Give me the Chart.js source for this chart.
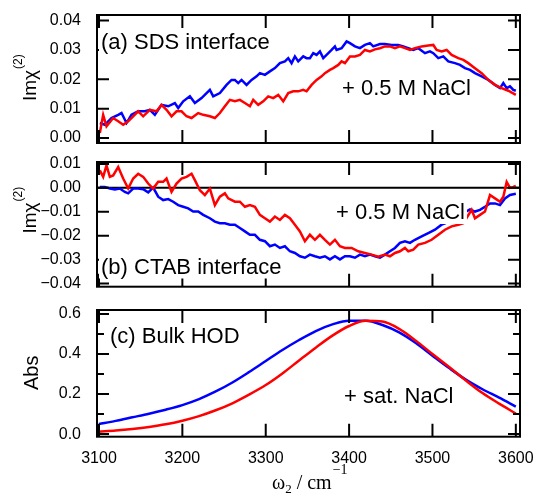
<!DOCTYPE html>
<html><head><meta charset="utf-8">
<script src="https://cdn.jsdelivr.net/npm/chart.js@4.4.1/dist/chart.umd.min.js"></script>
<style>
html,body{margin:0;padding:0;background:#fff;}
#wrap{position:relative;width:535px;height:495px;background:#fff;}
canvas{position:absolute;left:0;top:0;}
</style>
</head><body>
<div id="wrap">
<canvas id="ca" width="535" height="495"></canvas>
<canvas id="cb" width="535" height="495"></canvas>
<canvas id="cc" width="535" height="495"></canvas>
</div>
<script>
// ---------- axis ticks ----------
const X_TICKS = [3100, 3200, 3300, 3400, 3500, 3600];
const X_TICK_LABELS = ['3100', '3200', '3300', '3400', '3500', '3600'];
const A_Y_TICKS = [0, 0.01, 0.02, 0.03, 0.04];
const A_Y_LABELS = ['0.00', '0.01', '0.02', '0.03', '0.04'];
const B_Y_TICKS = [-0.04, -0.03, -0.02, -0.01, 0, 0.01];
const B_Y_LABELS = ['\u22120.04', '\u22120.03', '\u22120.02', '\u22120.01', '0.00', '0.01'];
const C_Y_TICKS = [0, 0.2, 0.4, 0.6];
const C_Y_LABELS = ['0.0', '0.2', '0.4', '0.6'];
const C_Y_MINOR = [0.1, 0.3, 0.5];

// ---------- (a) SDS interface ----------
const A_BLUE_X = [3101,3107,3115,3123,3127,3133,3139,3147,3155,3161,3167,3175,3183,3191,3195,3201,3209,3215,3223,3233,3237,3245,3253,3259,3263,3267,3271,3277,3283,3289,3293,3299,3305,3311,3317,3323,3327,3331,3335,3339,3345,3349,3353,3357,3361,3365,3369,3373,3379,3383,3385,3391,3397,3401,3407,3413,3419,3425,3429,3437,3443,3451,3459,3465,3471,3477,3483,3491,3497,3501,3507,3513,3519,3527,3533,3539,3545,3551,3559,3567,3575,3581,3585,3589,3593,3597,3600];
const A_BLUE_Y = [0.0051,0.0045,0.0068,0.0079,0.0085,0.0051,0.0079,0.0091,0.0091,0.0096,0.0079,0.0113,0.0108,0.0119,0.0102,0.0125,0.0142,0.0119,0.0136,0.0164,0.0142,0.0153,0.0181,0.0198,0.0198,0.0187,0.0198,0.0181,0.0198,0.0210,0.0221,0.0215,0.0227,0.0238,0.0255,0.0261,0.0272,0.0255,0.0278,0.0261,0.0278,0.0272,0.0272,0.0289,0.0283,0.0295,0.0272,0.0283,0.0300,0.0312,0.0300,0.0306,0.0329,0.0323,0.0312,0.0306,0.0317,0.0323,0.0312,0.0320,0.0320,0.0317,0.0317,0.0312,0.0306,0.0300,0.0306,0.0289,0.0295,0.0289,0.0272,0.0278,0.0261,0.0255,0.0249,0.0238,0.0232,0.0221,0.0210,0.0198,0.0181,0.0170,0.0187,0.0170,0.0176,0.0164,0.0161];
const A_RED_X = [3101,3105,3109,3117,3123,3129,3135,3141,3147,3153,3161,3169,3175,3181,3187,3193,3199,3205,3211,3219,3225,3233,3239,3245,3251,3257,3263,3269,3275,3281,3285,3291,3297,3303,3309,3315,3321,3327,3333,3339,3345,3349,3355,3361,3367,3371,3377,3381,3387,3391,3395,3401,3407,3413,3419,3425,3431,3437,3443,3449,3455,3461,3467,3473,3479,3487,3495,3501,3505,3511,3517,3523,3531,3537,3543,3551,3559,3567,3575,3583,3591,3600];
const A_RED_Y = [0.0017,0.0079,0.0040,0.0068,0.0057,0.0045,0.0057,0.0074,0.0091,0.0074,0.0096,0.0091,0.0113,0.0096,0.0074,0.0091,0.0091,0.0074,0.0068,0.0085,0.0079,0.0074,0.0068,0.0085,0.0108,0.0130,0.0125,0.0130,0.0119,0.0108,0.0130,0.0113,0.0125,0.0142,0.0136,0.0147,0.0125,0.0153,0.0159,0.0159,0.0164,0.0159,0.0181,0.0198,0.0210,0.0221,0.0232,0.0238,0.0249,0.0261,0.0255,0.0278,0.0278,0.0283,0.0300,0.0295,0.0302,0.0306,0.0312,0.0312,0.0306,0.0312,0.0306,0.0300,0.0306,0.0312,0.0315,0.0317,0.0300,0.0295,0.0300,0.0283,0.0272,0.0266,0.0255,0.0238,0.0221,0.0198,0.0181,0.0170,0.0161,0.0147];

// ---------- (b) CTAB interface ----------
const B_BLUE_X = [3101,3107,3113,3119,3125,3131,3135,3141,3147,3153,3159,3165,3171,3177,3183,3189,3195,3201,3207,3213,3219,3225,3233,3239,3245,3251,3257,3263,3269,3275,3281,3287,3293,3299,3305,3311,3317,3323,3329,3335,3341,3347,3353,3359,3365,3371,3377,3383,3389,3395,3401,3407,3413,3419,3425,3431,3437,3443,3449,3455,3461,3467,3473,3479,3487,3495,3503,3511,3515,3545,3551,3557,3563,3569,3575,3581,3587,3593,3600];
const B_BLUE_Y = [0.0004,0.0004,-0.0003,-0.0007,-0.0003,-0.0017,-0.0023,-0.0003,-0.0003,-0.0006,-0.0019,0.0001,-0.0037,-0.0051,-0.0047,-0.0058,-0.0072,-0.0079,-0.0086,-0.0099,-0.0099,-0.0113,-0.0127,-0.0141,-0.0148,-0.0148,-0.0154,-0.0154,-0.0168,-0.0182,-0.0196,-0.0196,-0.0217,-0.0223,-0.0244,-0.0237,-0.0251,-0.0244,-0.0265,-0.0272,-0.0286,-0.0292,-0.0279,-0.0286,-0.0292,-0.0286,-0.0299,-0.0286,-0.0299,-0.0286,-0.0286,-0.0292,-0.0279,-0.0286,-0.0279,-0.0286,-0.0292,-0.0279,-0.0265,-0.0251,-0.0230,-0.0223,-0.0230,-0.0217,-0.0203,-0.0189,-0.0175,-0.0154,-0.0148,-0.0090,-0.0099,-0.0092,-0.0079,-0.0065,-0.0065,-0.0072,-0.0044,-0.0030,-0.0025];
const B_RED_X = [3101,3105,3109,3113,3117,3123,3129,3135,3141,3147,3153,3159,3165,3171,3177,3181,3187,3193,3199,3205,3211,3215,3221,3227,3233,3239,3245,3251,3255,3263,3269,3275,3281,3287,3293,3299,3305,3311,3317,3323,3329,3335,3341,3347,3353,3359,3365,3371,3377,3383,3389,3395,3403,3411,3419,3427,3435,3443,3449,3455,3461,3467,3471,3477,3483,3491,3499,3507,3515,3523,3531,3537,3547,3551,3557,3563,3569,3575,3581,3585,3589,3593,3597,3600];
const B_RED_Y = [0.0073,0.0046,0.0094,0.0046,0.0052,0.0087,0.0039,-0.0003,0.0039,0.0059,0.0046,0.0018,-0.0003,0.0025,0.0025,0.0039,-0.0017,0.0018,0.0039,0.0046,0.0059,0.0032,-0.0010,-0.0030,-0.0003,-0.0072,-0.0037,-0.0023,-0.0044,-0.0058,-0.0058,-0.0079,-0.0072,-0.0079,-0.0113,-0.0127,-0.0141,-0.0120,-0.0134,-0.0113,-0.0127,-0.0154,-0.0182,-0.0223,-0.0196,-0.0217,-0.0196,-0.0217,-0.0237,-0.0217,-0.0244,-0.0251,-0.0251,-0.0265,-0.0272,-0.0279,-0.0288,-0.0279,-0.0286,-0.0272,-0.0265,-0.0251,-0.0265,-0.0258,-0.0237,-0.0230,-0.0217,-0.0196,-0.0175,-0.0161,-0.0154,-0.0148,-0.0092,-0.0127,-0.0113,-0.0099,-0.0030,-0.0044,-0.0058,-0.0037,0.0025,0.0000,0.0004,0.0008];

// ---------- (c) Bulk HOD ----------
const C_X = [3100,3120,3140,3160,3180,3200,3220,3240,3260,3280,3300,3320,3340,3360,3380,3400,3420,3440,3460,3480,3500,3520,3540,3560,3580,3600];
const C_BLUE = [0.050,0.066,0.084,0.102,0.122,0.145,0.175,0.213,0.258,0.310,0.365,0.420,0.470,0.515,0.548,0.566,0.566,0.545,0.508,0.455,0.392,0.330,0.272,0.224,0.182,0.137];
const C_RED = [0.012,0.018,0.026,0.036,0.049,0.067,0.090,0.119,0.154,0.197,0.245,0.303,0.368,0.432,0.492,0.540,0.566,0.562,0.526,0.467,0.400,0.335,0.268,0.205,0.152,0.103];

const SANS = '"Liberation Sans", Arial, Helvetica, sans-serif';
const SERIF = '"Liberation Serif", "Times New Roman", serif';
const BLUE = '#0000ff', RED = '#ff0000';

function pts(xs, ys) { return xs.map((x, i) => ({ x: x, y: ys[i] })); }

function decoPlugin(cfg) {
  return {
    id: 'deco_' + cfg.name,
    beforeDatasetsDraw(chart) {
      if (!cfg.zero) return;
      const ctx = chart.ctx, a = chart.chartArea, y = chart.scales.y;
      const py = y.getPixelForValue(0);
      ctx.save();
      ctx.strokeStyle = '#000'; ctx.lineWidth = 2;
      ctx.beginPath(); ctx.moveTo(a.left, py); ctx.lineTo(a.right, py); ctx.stroke();
      ctx.restore();
    },
    afterDraw(chart) {
      const ctx = chart.ctx, a = chart.chartArea, x = chart.scales.x, y = chart.scales.y;
      ctx.save();
      ctx.strokeStyle = '#000'; ctx.lineWidth = 2; ctx.lineCap = 'butt';
      ctx.beginPath();
      X_TICKS.forEach(v => {
        const p = x.getPixelForValue(v);
        ctx.moveTo(p, a.bottom); ctx.lineTo(p, a.bottom - 13);
        ctx.moveTo(p, a.top); ctx.lineTo(p, a.top + 13);
      });
      cfg.yTicks.forEach(v => {
        const p = y.getPixelForValue(v);
        ctx.moveTo(a.left, p); ctx.lineTo(a.left + 12, p);
        ctx.moveTo(a.right, p); ctx.lineTo(a.right - 12, p);
      });
      (cfg.yMinor || []).forEach(v => {
        const p = y.getPixelForValue(v);
        ctx.moveTo(a.left, p); ctx.lineTo(a.left + 7, p);
        ctx.moveTo(a.right, p); ctx.lineTo(a.right - 7, p);
      });
      ctx.stroke();
      ctx.strokeRect(a.left, a.top, a.right - a.left, a.bottom - a.top);

      // annotations with opaque white boxes
      ctx.font = '22px ' + SANS;
      ctx.textAlign = 'left'; ctx.textBaseline = 'alphabetic';
      cfg.notes.forEach(n => {
        const w = ctx.measureText(n.t).width;
        ctx.fillStyle = '#fff';
        ctx.fillRect(n.x - 2, n.y - 17, w + 4, 22);
        ctx.fillStyle = '#000';
        ctx.fillText(n.t, n.x, n.y);
      });

      // y title (rotated) with optional superscript
      const yt = cfg.yTitle;
      ctx.save();
      ctx.translate(yt.x, yt.y); ctx.rotate(-Math.PI / 2);
      ctx.fillStyle = '#000';
      ctx.font = yt.size + 'px ' + SANS;
      ctx.fillText(yt.main, 0, 0);
      if (yt.sup) {
        const w = ctx.measureText(yt.main).width;
        ctx.font = '12px ' + SANS;
        ctx.fillText(yt.sup, w + 1, -14);
      }
      ctx.restore();

      // x title
      if (cfg.xTitle) {
        ctx.fillStyle = '#000';
        let px = 272; const base = 489;
        ctx.font = '20px ' + SERIF;
        ctx.fillText('\u03c9', px, base); px += ctx.measureText('\u03c9').width;
        ctx.font = '13px ' + SERIF;
        ctx.fillText('2', px, base + 4); px += ctx.measureText('2').width;
        ctx.font = '20px ' + SERIF;
        ctx.fillText(' / cm', px, base); px += ctx.measureText(' / cm').width;
        ctx.font = '14px ' + SERIF;
        ctx.fillText('\u22121', px + 1, base - 15);
      }
      ctx.restore();
    }
  };
}

function makeChart(id, cfg) {
  const yLabels = cfg.yLabels, yTicks = cfg.yTicks;
  return new Chart(document.getElementById(id), {
    type: 'line',
    data: { datasets: cfg.datasets },
    options: {
      responsive: false, animation: false, devicePixelRatio: 1,
      layout: { padding: cfg.padding },
      plugins: { legend: { display: false }, tooltip: { enabled: false } },
      elements: { point: { radius: 0 }, line: { borderWidth: 2.5 } },
      scales: {
        x: {
          type: 'linear', min: 3097.6, max: 3605,
          display: !!cfg.showX,
          grid: { display: false }, border: { display: false },
          afterBuildTicks: s => { s.ticks = X_TICKS.map(v => ({ value: v })); },
          afterFit: s => { s.paddingLeft = 0; s.paddingRight = 0; if (cfg.showX) s.height = 40; },
          ticks: {
            color: '#000', padding: 4, maxRotation: 0, autoSkip: false,
            font: { family: SANS, size: 16 },
            callback: (v, i) => X_TICK_LABELS[i]
          }
        },
        y: {
          type: 'linear', min: cfg.yMin, max: cfg.yMax,
          grid: { display: false }, border: { display: false },
          afterBuildTicks: s => { s.ticks = yTicks.map(v => ({ value: v })); },
          afterFit: s => { s.width = 97; s.paddingTop = 0; s.paddingBottom = 0; },
          ticks: {
            color: '#000', padding: 8, autoSkip: false,
            font: { family: SANS, size: 16 },
            callback: (v, i) => yLabels[i]
          }
        }
      }
    },
    plugins: [decoPlugin(cfg)]
  });
}

function ds(xs, ys, color, smooth) {
  const d = { data: pts(xs, ys), borderColor: color, backgroundColor: color, borderWidth: 2.5, pointRadius: 0, fill: false };
  if (smooth) d.cubicInterpolationMode = 'monotone';
  return d;
}

makeChart('ca', {
  name: 'a', yMin: -0.0017, yMax: 0.0419, yTicks: A_Y_TICKS, yLabels: A_Y_LABELS,
  padding: { left: 0, right: 15, top: 15, bottom: 352 },
  datasets: [ds(A_RED_X, A_RED_Y, RED), ds(A_BLUE_X, A_BLUE_Y, BLUE)],
  notes: [{ t: '(a) SDS interface', x: 101, y: 49 }, { t: '+ 0.5 M NaCl', x: 342, y: 95 }],
  yTitle: { main: 'Im\u03c7', sup: '(2)', x: 36, y: 101, size: 19 }
});
makeChart('cb', {
  name: 'b', yMin: -0.0413, yMax: 0.0108, yTicks: B_Y_TICKS, yLabels: B_Y_LABELS, zero: true,
  padding: { left: 0, right: 15, top: 162, bottom: 208.3 },
  datasets: [ds(B_RED_X, B_RED_Y, RED), ds(B_BLUE_X, B_BLUE_Y, BLUE)],
  notes: [{ t: '+ 0.5 M NaCl', x: 336, y: 219 }, { t: '(b) CTAB interface', x: 101, y: 273.5 }],
  yTitle: { main: 'Im\u03c7', sup: '(2)', x: 36, y: 233.5, size: 19 }
});
makeChart('cc', {
  name: 'c', yMin: -0.013, yMax: 0.62, yTicks: C_Y_TICKS, yLabels: C_Y_LABELS, yMinor: C_Y_MINOR, showX: true, xTitle: true,
  padding: { left: 0, right: 15, top: 310, bottom: 18.3 },
  datasets: [ds(C_X, C_RED, RED, true), ds(C_X, C_BLUE, BLUE, true)],
  notes: [{ t: '(c) Bulk HOD', x: 110, y: 343 }, { t: '+ sat. NaCl', x: 344, y: 403 }],
  yTitle: { main: 'Abs', x: 38, y: 390, size: 20 }
});
</script>
</body></html>
